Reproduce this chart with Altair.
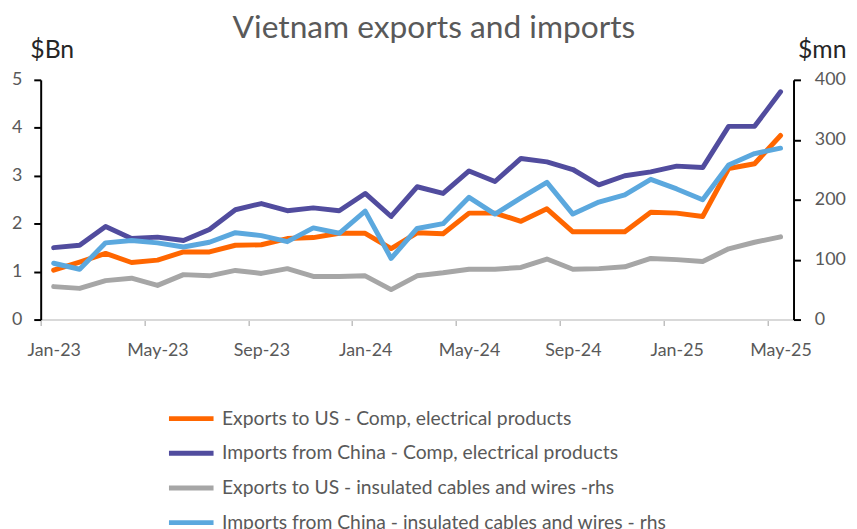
import altair as alt
import pandas as pd

months = ["Jan-23","Feb-23","Mar-23","Apr-23","May-23","Jun-23","Jul-23","Aug-23","Sep-23","Oct-23","Nov-23","Dec-23",
          "Jan-24","Feb-24","Mar-24","Apr-24","May-24","Jun-24","Jul-24","Aug-24","Sep-24","Oct-24","Nov-24","Dec-24",
          "Jan-25","Feb-25","Mar-25","Apr-25","May-25"]
x_labels = ["Jan-23", "May-23", "Sep-23", "Jan-24", "May-24", "Sep-24", "Jan-25", "May-25"]

exp_us_comp = [1.03, 1.20, 1.38, 1.19, 1.24, 1.41, 1.41, 1.55, 1.56, 1.69, 1.71, 1.80,
               1.80, 1.48, 1.81, 1.79, 2.22, 2.22, 2.05, 2.31, 1.83, 1.83, 1.83, 2.24,
               2.22, 2.15, 3.15, 3.25, 3.84]
imp_cn_comp = [1.50, 1.55, 1.94, 1.69, 1.72, 1.65, 1.88, 2.29, 2.42, 2.27, 2.33, 2.27,
               2.63, 2.15, 2.77, 2.63, 3.10, 2.88, 3.36, 3.29, 3.13, 2.81, 3.00, 3.08,
               3.20, 3.17, 4.03, 4.03, 4.75]
exp_us_cable = [55, 52, 65, 69, 57, 75, 73, 82, 77, 85, 72, 72,
                73, 50, 73, 78, 84, 84, 87, 101, 84, 85, 88, 102,
                100, 97, 118, 129, 138]
imp_cn_cable = [94, 84, 128, 132, 128, 121, 129, 145, 140, 130, 153, 144,
                181, 102, 152, 160, 204, 176, 203, 229, 176, 196, 208, 234,
                218, 200, 258, 277, 286]

series_names = ["Exports to US - Comp, electrical products",
                "Imports from China - Comp, electrical products",
                "Exports to US - insulated cables and wires -rhs",
                "Imports from China - insulated cables and wires - rhs"]
series_colors = ["#FF6600", "#514C9E", "#A6A6A6", "#5BA8DE"]

def long(values, name):
    return pd.DataFrame({"i": list(range(len(months))), "month": months, "value": values, "series": name})

left_df = pd.concat([long(exp_us_comp, series_names[0]), long(imp_cn_comp, series_names[1])])
right_df = pd.concat([long(exp_us_cable, series_names[2]), long(imp_cn_cable, series_names[3])])

FONT = "Lato"
label_arr = "[" + ",".join("'%s'" % s for s in x_labels) + "]"

x_enc = alt.X("i:Q",
              scale=alt.Scale(domain=[-0.5, 28.5], nice=False, zero=False),
              axis=alt.Axis(values=[-0.5 + 4 * k for k in range(8)],
                            labelExpr=label_arr + "[round((datum.value + 0.5) / 4)]",
                            labelOffset=13.1, title=None, grid=False,
                            domainColor="#D9D9D9", domainWidth=2,
                            tickColor="#BFBFBF", tickWidth=1.5, tickSize=6,
                            labelPadding=16, labelFontSize=18, labelColor="#595959",
                            labelFont=FONT, labelFlush=False, labelOverlap=False))

color_enc = alt.Color("series:N",
                      scale=alt.Scale(domain=series_names, range=series_colors),
                      legend=alt.Legend(title=None, orient="none", legendX=127, legendY=317,
                                        direction="vertical", symbolType="stroke",
                                        symbolSize=2025, symbolStrokeWidth=5,
                                        labelFontSize=19.5, labelColor="#595959", labelFont=FONT,
                                        labelLimit=700, rowPadding=0, labelOffset=6))

def yaxis(orient, values, title, title_x, pad):
    return alt.Axis(orient=orient, values=values, title=title, grid=False,
                    titleAngle=0, titleX=title_x, titleY=-23, titleAlign="left",
                    titleBaseline="alphabetic", titleFontSize=25, titleFontWeight="normal",
                    titleColor="#262626", titleFont=FONT,
                    domainColor="black", domainWidth=2, tickColor="black", tickWidth=2,
                    tickSize=7, labelPadding=pad, labelFontSize=18, labelColor="#595959",
                    labelFont=FONT)

left = alt.Chart(left_df).mark_line(strokeWidth=5, strokeJoin="round", strokeCap="round").encode(
    x=x_enc,
    y=alt.Y("value:Q", scale=alt.Scale(domain=[0, 5], nice=False),
            axis=yaxis("left", [0, 1, 2, 3, 4, 5], "$Bn", -11, 12)),
    color=color_enc,
)

right = alt.Chart(right_df).mark_line(strokeWidth=5, strokeJoin="round", strokeCap="round").encode(
    x=x_enc,
    y=alt.Y("value:Q", scale=alt.Scale(domain=[0, 400], nice=False),
            axis=yaxis("right", [0, 100, 200, 300, 400], "$mn", 4, 14)),
    color=color_enc,
)

chart = alt.layer(left, right).resolve_scale(y="independent").properties(
    width=760, height=242,
    title=alt.TitleParams("Vietnam exports and imports", fontSize=32, font=FONT, fontWeight="normal",
                          color="#595959", anchor="middle", dx=17, dy=12),
    autosize=alt.AutoSizeParams(type="none"),
    padding={"left": 33, "top": 70, "right": 56, "bottom": 220},
).configure_view(stroke=None)

chart.save("out.html", embed_options={"renderer": "svg", "actions": False})
